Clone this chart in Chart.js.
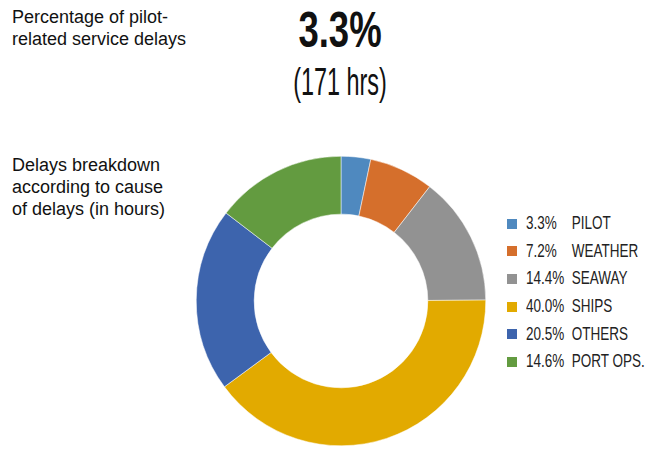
<!DOCTYPE html>
<html>
<head>
<meta charset="utf-8">
<script src="https://cdn.jsdelivr.net/npm/chart.js@4"></script>
<style>
    html, body { margin: 0; padding: 0; background: #fff; }
    #page { position: relative; width: 654px; height: 454px; overflow: hidden; font-family: "Liberation Sans", Arial, sans-serif; color: #111; }
    .note { position: absolute; left: 12px; font-size: 18px; line-height: 22px; }
    /* the big figures use a squeezed sans, close to a condensed face */
    #headline { position: absolute; left: 240px; width: 200px; top: 5px; text-align: center; font-weight: bold; font-size: 50px; line-height: 50px; transform: scaleX(0.73); }
    #hours { position: absolute; left: 240px; width: 200px; top: 63px; text-align: center; font-size: 38px; line-height: 38px; transform: scaleX(0.616); }
    #wrap { position: absolute; left: 196px; top: 156px; width: 290px; height: 290px; }
    #legend { position: absolute; left: 507px; top: 210px; margin: 0; padding: 0; list-style: none; }
    #legend li { height: 27.6px; display: flex; align-items: center; white-space: nowrap; }
    #legend .swatch { width: 10px; height: 10px; margin-right: 9px; }
    #legend .txt { display: flex; font-size: 18px; color: #222; transform: scaleX(0.75); transform-origin: left center; }
    #legend .pct { width: 61px; }
</style>
</head>
<body>
<div id="page">
    <div class="note" style="top: 6px;">Percentage of pilot-<br>related service delays</div>
    <div id="headline">3.3%</div>
    <div id="hours">(171 hrs)</div>
    <div class="note" style="top: 154px;">Delays breakdown<br>according to cause<br>of delays (in hours)</div>
    <div id="wrap"><canvas id="chart"></canvas></div>
    <ul id="legend"></ul>
</div>
<script>
// ================= DATA =================
const causes = ["PILOT", "WEATHER", "SEAWAY", "SHIPS", "OTHERS", "PORT OPS."];
const shares = [3.3, 7.2, 14.4, 40.0, 20.5, 14.6];
const colors = ["#4f89bf", "#d56f2c", "#929292", "#e2aa00", "#3d64ad", "#639b40"];

// ================= LEGEND =================
// built from the same arrays as the ring: "3.3%  PILOT" etc.
const legendList = document.getElementById("legend");
causes.forEach((c, i) => {
    const li = document.createElement("li");

    const sw = document.createElement("span");
    sw.className = "swatch";
    sw.style.background = colors[i];

    const txt = document.createElement("span");
    txt.className = "txt";

    const pct = document.createElement("span");
    pct.className = "pct";
    pct.textContent = shares[i].toFixed(1) + "%";

    const name = document.createElement("span");
    name.textContent = c;

    txt.appendChild(pct);
    txt.appendChild(name);
    li.appendChild(sw);
    li.appendChild(txt);
    legendList.appendChild(li);
});

// ================= CHART =================
const ctx = document.getElementById("chart").getContext("2d");

new Chart(ctx, {
    type: "doughnut",
    data: {
        labels: causes,
        datasets: [{
            data: shares,
            backgroundColor: colors,
            borderColor: "#ffffff",
            borderWidth: 0.5
        }]
    },
    options: {
        responsive: true,
        maintainAspectRatio: false,
        animation: false,
        cutout: "60%",
        layout: { padding: 0 },
        plugins: {
            tooltip: { enabled: false },
            legend: { display: false }
        }
    }
});
</script>
</body>
</html>
